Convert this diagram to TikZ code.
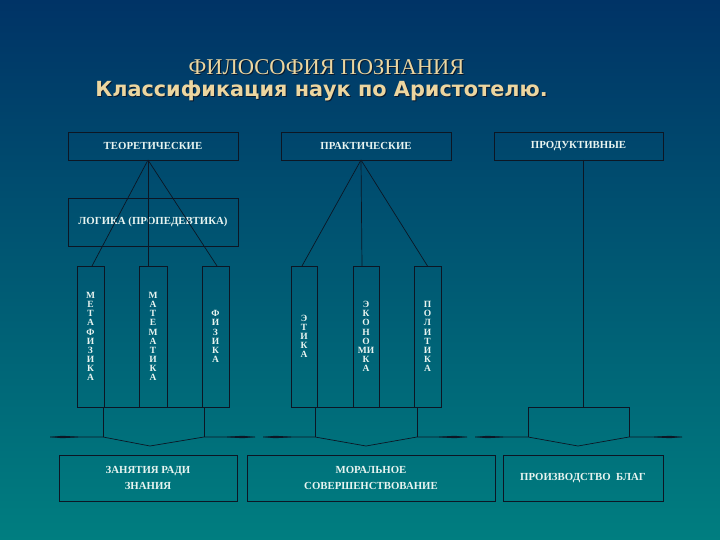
\documentclass[tikz,border=0pt]{standalone}
\usepackage{fontspec}
\setmainfont{Liberation Serif}
\newfontfamily\titlesans{DejaVu Sans}
\definecolor{bgtop}{RGB}{0,51,102}
\definecolor{bgmid}{RGB}{0,90,118}
\definecolor{bgbot}{RGB}{0,126,128}
\definecolor{ttl}{RGB}{236,214,160}
\definecolor{shd}{RGB}{10,25,45}
\definecolor{lbl}{RGB}{232,244,240}
\definecolor{ln}{RGB}{12,22,36}
\tikzset{
  box/.style={draw=ln, line width=0.8pt, inner sep=0pt, outer sep=0pt, text=lbl,
    font=\fontsize{10.8}{15.5}\selectfont\bfseries, align=center},
  vbox/.style={box, minimum width=27pt, minimum height=141pt,
    font=\fontsize{9.5}{9.1}\selectfont\bfseries},
  conn/.style={draw=ln, line width=0.7pt},
  tip/.style={fill=ln},
}
\newcommand{\aribrace}[5]{%
  \draw[conn] (#1,437) -- (#2,437) -- (#3,446) -- (#4,437) -- (#5,437);
  \fill[tip] (#1,437) -- ++(12,-1.2) -- ++(16,0.9) -- ++(0,0.6) -- ++(-16,0.9) -- cycle;
  \fill[tip] (#5,437) -- ++(-12,-1.2) -- ++(-16,0.9) -- ++(0,0.6) -- ++(16,0.9) -- cycle;
}
\begin{document}
\begin{tikzpicture}[x=1pt, y=-1pt]
\useasboundingbox (0,0) rectangle (720,540);
\shade[top color=bgtop, middle color=bgmid, bottom color=bgbot] (0,0) rectangle (720,540);

% titles
\node[anchor=base, text=shd, font=\fontsize{22.5}{22.5}\selectfont] at (327.5,76) {ФИЛОСОФИЯ ПОЗНАНИЯ};
\node[anchor=base, text=ttl, font=\fontsize{22.5}{22.5}\selectfont] (t1) at (326.5,75) {ФИЛОСОФИЯ ПОЗНАНИЯ};
\node[anchor=base, text=shd, font=\titlesans\bfseries\fontsize{20.8}{20.8}\selectfont] at (322.5,98) {Классификация наук по Аристотелю.};
\node[anchor=base, text=ttl, font=\titlesans\bfseries\fontsize{20.8}{20.8}\selectfont] (t2) at (321.5,97) {Классификация наук по Аристотелю.};

% top boxes
\node[box, minimum width=170pt, minimum height=28pt] (teo) at (153,146) {ТЕОРЕТИЧЕСКИЕ};
\node[box, minimum width=170pt, minimum height=28pt] (pra) at (366,146) {ПРАКТИЧЕСКИЕ};
\node[box, minimum width=169pt, minimum height=28pt] (prod) at (578.5,146) {ПРОДУКТИВНЫЕ};
\node[box, minimum width=170pt, minimum height=48pt] (logi) at (153,222) {ЛОГИКА (ПРОПЕДЕВТИКА)};

% vertical boxes
\node[vbox] (meta) at (90.5,336.5) {М\\Е\\Т\\А\\Ф\\И\\З\\И\\К\\А};
\node[vbox, minimum width=28pt] (mat) at (153,336.5) {М\\А\\Т\\Е\\М\\А\\Т\\И\\К\\А};
\node[vbox] (fiz) at (215.5,336.5) {Ф\\И\\З\\И\\К\\А};
\node[vbox, minimum width=26pt] (eti) at (304,336.5) {Э\\Т\\И\\К\\А};
\node[vbox, minimum width=26pt] (eko) at (366,336.5) {Э\\К\\О\\Н\\О\\МИ\\К\\А};
\node[vbox] (pol) at (427.5,336.5) {П\\О\\Л\\И\\Т\\И\\К\\А};

% bottom boxes
\node[box, minimum width=178pt, minimum height=46pt] (zan) at (148,478) {ЗАНЯТИЯ РАДИ\\ЗНАНИЯ};
\node[box, minimum width=248pt, minimum height=46pt] (mor) at (371,478) {МОРАЛЬНОЕ\\СОВЕРШЕНСТВОВАНИЕ};
\node[box, minimum width=160pt, minimum height=46pt] (proiz) at (583,478) {ПРОИЗВОДСТВО\ \ БЛАГ};

% connectors from the top boxes
\coordinate (ta) at (148,160);
\coordinate (pa) at (361,160);
\coordinate (qa) at (583,160);
\draw[conn] (ta) -- ([xshift=1.5pt]meta.north);
\draw[conn] (ta) -- (ta |- mat.north);
\draw[conn] (ta) -- ([xshift=1.5pt]fiz.north);
\draw[conn] (pa) -- ([xshift=-2pt]eti.north);
\draw[conn] (pa) -- ([xshift=-4pt]eko.north);
\draw[conn] (pa) -- (pol.north);
\draw[conn] (qa) -- (583,407);

% base lines under the columns
\draw[conn] (meta.south west) -- (fiz.south east);
\draw[conn] (eti.south west) -- (pol.south east);
\draw[conn] (528,407) -- (629,407);

% brackets
\draw[conn] (103,407) -- (103,437);
\draw[conn] (204,407) -- (204,437);
\draw[conn] (315,407) -- (315,437);
\draw[conn] (417,407) -- (417,437);
\draw[conn] (528,407) -- (528,437);
\draw[conn] (629,407) -- (629,437);
\aribrace{50}{103}{150}{204}{255}
\aribrace{263}{315}{366}{417}{467}
\aribrace{475}{528}{578}{629}{682}
\end{tikzpicture}
\end{document}
